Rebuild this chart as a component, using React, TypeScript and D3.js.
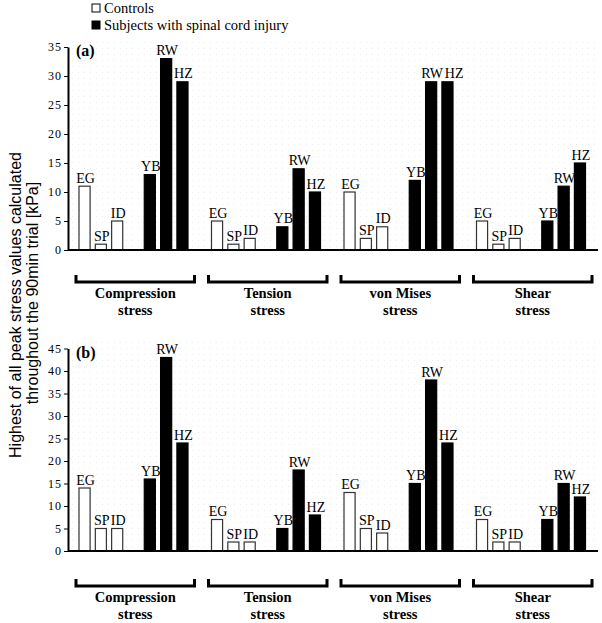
import { useEffect, useRef } from 'react'
import * as d3 from 'd3'

const W = 602
const H = 623

const stressGroups = ['Compression', 'Tension', 'von Mises', 'Shear']
const subjects = ['EG', 'SP', 'ID', 'YB', 'RW', 'HZ']
const controlSubjects = ['EG', 'SP', 'ID']

// panel (a) values, per stress group, in subject order
const panelA = [
  [11, 1, 5, 13, 33, 29],
  [5, 1, 2, 4, 14, 10],
  [10, 2, 4, 12, 29, 29],
  [5, 1, 2, 5, 11, 15],
]
// panel (b)
const panelB = [
  [14, 5, 5, 16, 43, 24],
  [7, 2, 2, 5, 18, 8],
  [13, 5, 4, 15, 38, 24],
  [7, 2, 2, 7, 15, 12],
]
const ticksA = [0, 5, 10, 15, 20, 25, 30, 35]
const ticksB = [0, 5, 10, 15, 20, 25, 30, 35, 40, 45]

const SERIF = "'Liberation Serif', 'Times New Roman', Times, serif"
const SANS = "'Liberation Sans', Arial, sans-serif"

const PANELS = [
  { tag: '(a)', values: panelA, ticks: ticksA, max: 35, top: 47, bottom: 250, bracketY: 282 },
  { tag: '(b)', values: panelB, ticks: ticksB, max: 45, top: 348.5, bottom: 551, bracketY: 586 },
]

export default function App() {
  const svgRef = useRef<SVGSVGElement | null>(null)

  useEffect(() => {
    const svg = d3.select(svgRef.current)
    svg.selectAll('*').remove()

    const x0 = d3.scaleBand<string>().domain(stressGroups).range([68, 598])
    const x1 = d3.scaleBand<string>()
      .domain(['EG', 'SP', 'ID', 'gap', 'YB', 'RW', 'HZ'])
      .range([11, 120])
      .paddingInner(0.32)

    // faint dotted background
    const defs = svg.append('defs')
    const pat = defs.append('pattern')
      .attr('id', 'dots').attr('width', 6).attr('height', 6)
      .attr('patternUnits', 'userSpaceOnUse')
    pat.append('rect').attr('x', 0).attr('y', 0).attr('width', 1).attr('height', 1).attr('fill', '#ebebeb')

    // legend
    const legend = svg.append('g')
    ;[{ label: 'Controls', fill: '#fff' }, { label: 'Subjects with spinal cord injury', fill: '#000' }]
      .forEach((d, i) => {
        const y = 12.5 + i * 17
        legend.append('rect')
          .attr('x', 92).attr('y', y - 8.5).attr('width', 8).attr('height', 8)
          .attr('fill', d.fill).attr('stroke', '#000').attr('stroke-width', 1)
        legend.append('text')
          .attr('x', 104).attr('y', y)
          .style('font-family', SERIF).style('font-size', '14.5px')
          .text(d.label)
      })

    // y title
    const title = svg.append('g').style('font-family', SANS).style('font-size', '16px').attr('text-anchor', 'middle')
    title.append('text').attr('transform', 'translate(21,305) rotate(-90)').text('Highest of all peak stress values calculated')
    title.append('text').attr('transform', 'translate(38,293) rotate(-90)').text('throughout the 90min trial [kPa]')

    PANELS.forEach(p => {
      const y = d3.scaleLinear().domain([0, p.max]).range([p.bottom, p.top])
      const g = svg.append('g')

      g.append('rect')
        .attr('x', 70).attr('y', p.top - 8).attr('width', 528).attr('height', p.bottom - p.top + 8)
        .attr('fill', 'url(#dots)')

      // bars
      stressGroups.forEach((grp, gi) => {
        const gx = x0(grp)!
        let prev: { right: number; y: number } | null = null
        subjects.forEach((s, si) => {
          const v = p.values[gi][si]
          const isControl = si < controlSubjects.length
          const bx = gx + x1(s)!
          g.append('rect')
            .attr('x', bx).attr('y', y(v))
            .attr('width', x1.bandwidth()).attr('height', y(0) - y(v))
            .attr('fill', isControl ? '#fff' : '#000')
            .attr('stroke', isControl ? '#333' : '#000')
            .attr('stroke-width', 1.2)
          const t = g.append('text')
            .attr('x', bx + x1.bandwidth() / 2 + 1)
            .attr('y', y(v) - 3.5)
            .attr('text-anchor', 'middle')
            .style('font-family', SERIF).style('font-size', '14px')
            .text(s)
          // nudge right when it collides with the previous label
          const bb = (t.node() as SVGTextElement).getBBox()
          let left = bb.x
          if (prev && Math.abs(prev.y - y(v)) < 13 && left < prev.right + 1) {
            const shift = prev.right + 1 - left
            t.attr('x', bx + x1.bandwidth() / 2 + 1 + shift)
            left += shift
          }
          prev = { right: left + bb.width, y: y(v) }
        })

        // bracket + label
        const bx0 = gx + 8
        const bx1 = gx + x0.bandwidth() - 6
        g.append('path')
          .attr('d', `M${bx0},${p.bracketY - 7}V${p.bracketY}H${bx1}V${p.bracketY - 7}`)
          .attr('fill', 'none').attr('stroke', '#000').attr('stroke-width', 3)
        const cx = (bx0 + bx1) / 2
        const lbl = g.append('text')
          .attr('text-anchor', 'middle')
          .style('font-family', SERIF).style('font-size', '14.5px').style('font-weight', 'bold')
        lbl.append('tspan').attr('x', cx).attr('y', p.bracketY + 16).text(grp)
        lbl.append('tspan').attr('x', cx).attr('y', p.bracketY + 33).text('stress')
      })

      // axes
      g.append('line')
        .attr('x1', 68).attr('x2', 598).attr('y1', y(0)).attr('y2', y(0))
        .attr('stroke', '#000').attr('stroke-width', 2)
      g.append('g')
        .attr('transform', 'translate(68,0)')
        .call(d3.axisLeft(y).tickValues(p.ticks).tickSize(4).tickPadding(2).tickSizeOuter(0))
        .call(ax => ax.select('.domain').attr('stroke-width', 2))
        .call(ax => ax.selectAll('text')
          .style('font-family', SERIF).style('font-size', '12px')
          .attr('letter-spacing', 1).attr('fill', '#000'))

      g.append('text')
        .attr('x', 76).attr('y', p.top + 9)
        .style('font-family', SERIF).style('font-size', '16px').style('font-weight', 'bold')
        .text(p.tag)
    })
  }, [])

  return (
    <svg
      ref={svgRef}
      width={W}
      height={H}
      style={{ position: 'absolute', left: 0, top: 0, background: '#fff' }}
    />
  )
}
